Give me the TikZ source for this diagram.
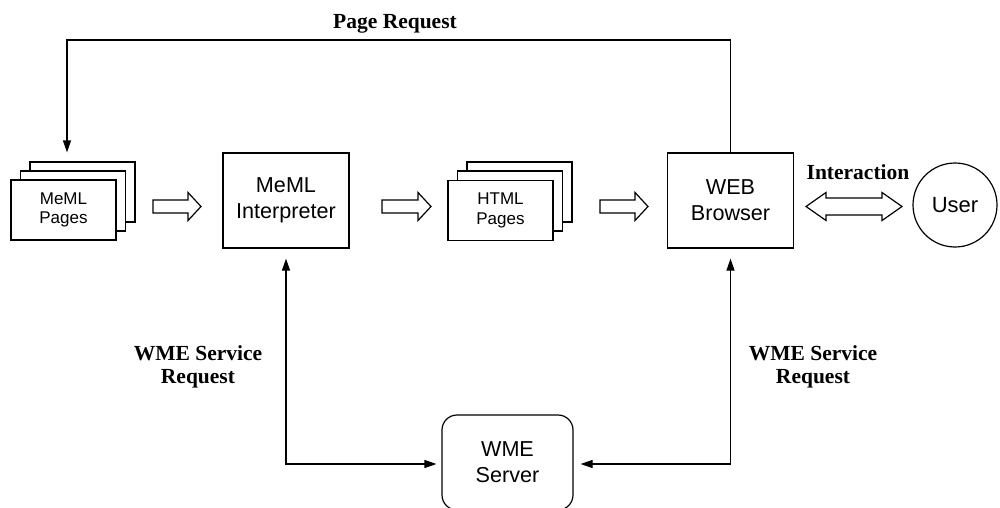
\documentclass[tikz,border=0pt]{standalone}
\usepackage{fontspec}
\setmainfont{Liberation Serif}
\setsansfont{Liberation Sans}
\usetikzlibrary{arrows.meta,calc}

% hollow block arrow pointing right: start x, end x, centre y
\newcommand\rightflow[3]{%
  \draw[flowshape] (#1,#3-6.5) -- (#2-13,#3-6.5) -- (#2-13,#3-14) -- (#2,#3)
    -- (#2-13,#3+14) -- (#2-13,#3+6.5) -- (#1,#3+6.5) -- cycle;}
% hollow double-headed block arrow: left tip x, right tip x, centre y
\newcommand\bothflow[3]{%
  \draw[flowshape] (#1,#3) -- (#1+20,#3-14) -- (#1+20,#3-8.5) -- (#2-20,#3-8.5)
    -- (#2-20,#3-14) -- (#2,#3) -- (#2-20,#3+14) -- (#2-20,#3+8.5)
    -- (#1+20,#3+8.5) -- (#1+20,#3+14) -- cycle;}

\begin{document}
\begin{tikzpicture}[x=1pt,y=-1pt,
  box/.style={draw, line width=1.2pt, fill=white, inner sep=0pt,
    minimum width=126pt, minimum height=95pt, align=center,
    font=\sffamily\fontsize{21.6}{26}\selectfont},
  sheet/.style={draw, line width=1.2pt, fill=white, inner sep=0pt,
    minimum width=105pt, minimum height=60pt},
  sheettext/.style={align=center, font=\sffamily\fontsize{17}{19.5}\selectfont},
  tag/.style={align=center, inner sep=0pt,
    font=\bfseries\fontsize{21.5}{22.5}\selectfont},
  link/.style={line width=1.2pt, {Triangle[length=12pt,width=8pt]}-{Triangle[length=12pt,width=8pt]}},
  onelink/.style={line width=1.2pt, -{Triangle[length=12pt,width=8pt]}},
  flowshape/.style={line width=1.2pt, fill=white, line join=miter}
]
\useasboundingbox (0,0) rectangle (1000,508);

% MeML page stack
\node[sheet] (mback)  at (82.5,192) {};
\node[sheet] (mmid)   at (73,201)   {};
\node[sheet] (mfront) at (63.5,210) {};
\node[sheettext] (mtext) at (mfront) {MeML\\Pages};

% interpreter
\node[box] (interp) at (286,200.5) {MeML\\Interpreter};

% HTML page stack
\node[sheet] (hback)  at (519.5,192) {};
\node[sheet] (hmid)   at (510,201)   {};
\node[sheet] (hfront) at (500.5,210.5) {};
\node[sheettext] (htext) at (hfront) {HTML\\Pages};

% browser and user
\node[box] (browser) at (730.5,200.5) {WEB\\Browser};
\node[draw, circle, line width=1.2pt, minimum size=84pt, inner sep=0pt,
      font=\sffamily\fontsize{22}{26}\selectfont] (user) at (955,205) {User};

% WME server
\node[box, rounded corners=15pt, minimum width=131pt] (server) at (507.5,462.5) {WME\\Server};

% data flow between the stages
\rightflow{153}{201}{206.5}
\rightflow{382}{431}{206.5}
\rightflow{600}{648}{206.5}
\bothflow{806}{902}{206.5}

% page request loop
\coordinate (preq) at (67,40);
\draw[onelink, shorten >=9pt] (browser.north) |- (preq) -- (preq |- mback.north);

% service requests to the WME server
\coordinate (lcorner) at (interp.south |- 0,464);
\coordinate (rcorner) at (browser.south |- 0,464);
\draw[link, shorten <=10pt, shorten >=5pt] (interp.south) -- (lcorner) -- (lcorner -| server.west);
\draw[link, shorten <=10pt, shorten >=7pt] (browser.south) -- (rcorner) -- (rcorner -| server.east);

% labels
\node[tag, anchor=base] (lpage) at (395,29) {Page Request};
\node[tag, anchor=base] (linter) at (858,179) {Interaction};
\node[tag] (lwmel) at (198,367) {WME Service\\Request};
\node[tag] (lwmer) at (813,367) {WME Service\\Request};
\end{tikzpicture}
\end{document}
